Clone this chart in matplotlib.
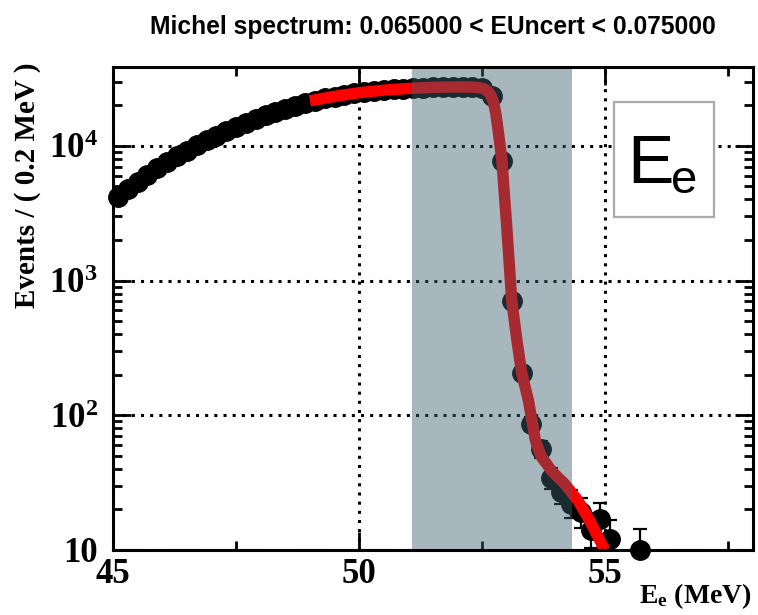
import numpy as np
import matplotlib
matplotlib.use("Agg")
import matplotlib.pyplot as plt
from matplotlib.patches import Rectangle
from matplotlib.ticker import FixedLocator, NullFormatter

# ---- data -------------------------------------------------------------
# bin centres (0.2 MeV bins) and event counts
bin_centers = np.round(np.arange(45.1, 55.71, 0.2), 1)
counts = [4200, 4750, 5400, 6100, 6800,
          7600, 8400, 9200, 10100, 11000,
          11900, 12800, 13800, 14800, 15800,
          16900, 17900, 18900, 19900, 20800,
          21700, 22500, 23200, 23900, 24500,
          25000, 25500, 25900, 26300, 26600,
          26900, 27100, 27300, 27400, 27500,
          27500, 27400, 26800, 23500, 7740,
          706, 207, 86, 56, 34,
          27, 22, 19, 14, 17,
          12, 0, 0, 10]

# fitted model curve
fit_x = [49.0, 49.5, 50.0, 50.5, 51.0, 51.5, 52.0, 52.3, 52.45, 52.55,
         52.62, 52.68, 52.73, 52.78, 52.83, 52.9, 53.0, 53.1, 53.2, 53.3,
         53.44, 53.51, 53.58, 53.65, 53.71, 53.8, 53.91, 54.18, 54.45,
         54.69, 54.93, 55.0]
fit_y = [21600, 23300, 24800, 25900, 26700, 27200, 27400, 27300, 27000, 26400,
         25300, 23600, 21000, 17000, 12500, 7740, 2450, 706, 370, 207,
         128, 91, 65, 55, 48.5, 44, 38.6, 30.8, 23.1,
         16.4, 11, 10]

# fit range band
band_lo, band_hi = 51.07, 54.33

x_major = [45, 50, 55]
x_major_labels = ["45", "50", "55"]
x_minor = [47.5, 52.5, 57.5]
y_major = [10, 100, 1000, 10000]
y_major_labels = ["10", r"$\mathdefault{10^{2}}$", r"$\mathdefault{10^{3}}$",
                  r"$\mathdefault{10^{4}}$"]

title = "Michel spectrum: 0.065000 < EUncert < 0.075000"
ylabel = "Events / ( 0.2 MeV )"

# ---- figure -----------------------------------------------------------
plt.rcParams["mathtext.fontset"] = "custom"
plt.rcParams["mathtext.rm"] = "Liberation Serif:bold"
plt.rcParams["mathtext.bf"] = "Liberation Serif:bold"
plt.rcParams["mathtext.it"] = "Liberation Serif:bold"

W, H = 758, 615
fig = plt.figure(figsize=(W / 100, H / 100), dpi=100)


def fx(px):
    return px / W


def fy(py):
    return 1 - py / H


ax = fig.add_axes([fx(113), fy(550), fx(753) - fx(113), fy(67) - fy(550)])
ax.set_yscale("log")
ax.set_xlim(45, 58)
ax.set_ylim(10, 3.85e4)

serif_bold = dict(family="Liberation Serif", weight="bold")

# data points with Poisson (Gehrels) intervals
cnt = np.asarray(counts, dtype=float)
pos = cnt > 0
xc = bin_centers[pos]
yc = cnt[pos]
err_lo = np.sqrt(yc - 0.25)
err_hi = 1 + np.sqrt(yc + 0.75)
ax.errorbar(xc, yc, yerr=[err_lo, err_hi], fmt="none", ecolor="black",
            elinewidth=1.6, capsize=5, capthick=1.6, zorder=2)
ax.plot(xc, yc, "o", color="black", markersize=14, zorder=3, clip_on=False)

# model curve
ax.plot(fit_x, fit_y, color="#ff0000", lw=8.2, solid_capstyle="butt",
        solid_joinstyle="round", zorder=3.5)

# shaded fit range
ax.axvspan(band_lo, band_hi, color=(62 / 255, 95 / 255, 111 / 255), alpha=0.45,
           lw=0, zorder=4)

# grid
ax.grid(True, which="major", color="black", linestyle=(0, (1, 2)), lw=2.2,
        zorder=1)
ax.set_axisbelow(True)

# ticks
ax.xaxis.set_major_locator(FixedLocator(x_major))
ax.xaxis.set_minor_locator(FixedLocator(x_minor))
ax.set_xticklabels(x_major_labels, **serif_bold, fontsize=25)
ax.xaxis.set_minor_formatter(NullFormatter())
ax.yaxis.set_major_locator(FixedLocator(y_major))
ax.set_yticklabels(y_major_labels, **serif_bold, fontsize=25)
minor_y = [m * 10 ** d for d in range(1, 5) for m in range(2, 10)
           if m * 10 ** d < 3.85e4]
ax.yaxis.set_minor_locator(FixedLocator(minor_y))
ax.yaxis.set_minor_formatter(NullFormatter())
ax.tick_params(which="both", direction="in", top=True, right=True, width=2,
               color="black")
ax.tick_params(which="major", length=13)
ax.tick_params(which="minor", length=6.5)
ax.tick_params(axis="x", which="major", pad=6)
ax.tick_params(axis="y", which="major", pad=11)

for s in ax.spines.values():
    s.set_linewidth(2.2)
    s.set_zorder(5)

# labels and title
fig.text(fx(433), fy(27), title, ha="center", va="center",
         family="Liberation Sans", weight="bold", fontsize=17.7)
fig.text(fx(28), fy(62), ylabel, rotation=90, ha="center", va="top",
         **serif_bold, fontsize=21)
fig.text(fx(752), fy(611), r"E$_{\mathbf{e}}$ (MeV)", ha="right",
         va="bottom", **serif_bold, fontsize=20)

# variable tag box
ax.add_patch(Rectangle((fx(614), fy(217)), fx(714) - fx(614),
                       fy(102) - fy(217), transform=fig.transFigure,
                       fill=True, facecolor="white", edgecolor="#aaaaaa",
                       lw=1.6, zorder=6, clip_on=False))
fig.text(fx(627), fy(183), "E", ha="left", va="baseline",
         family="Liberation Sans", fontsize=50, zorder=7)
fig.text(fx(671), fy(193), "e", ha="left", va="baseline",
         family="Liberation Sans", fontsize=34, zorder=7)

fig.savefig("out.png", dpi=100)
